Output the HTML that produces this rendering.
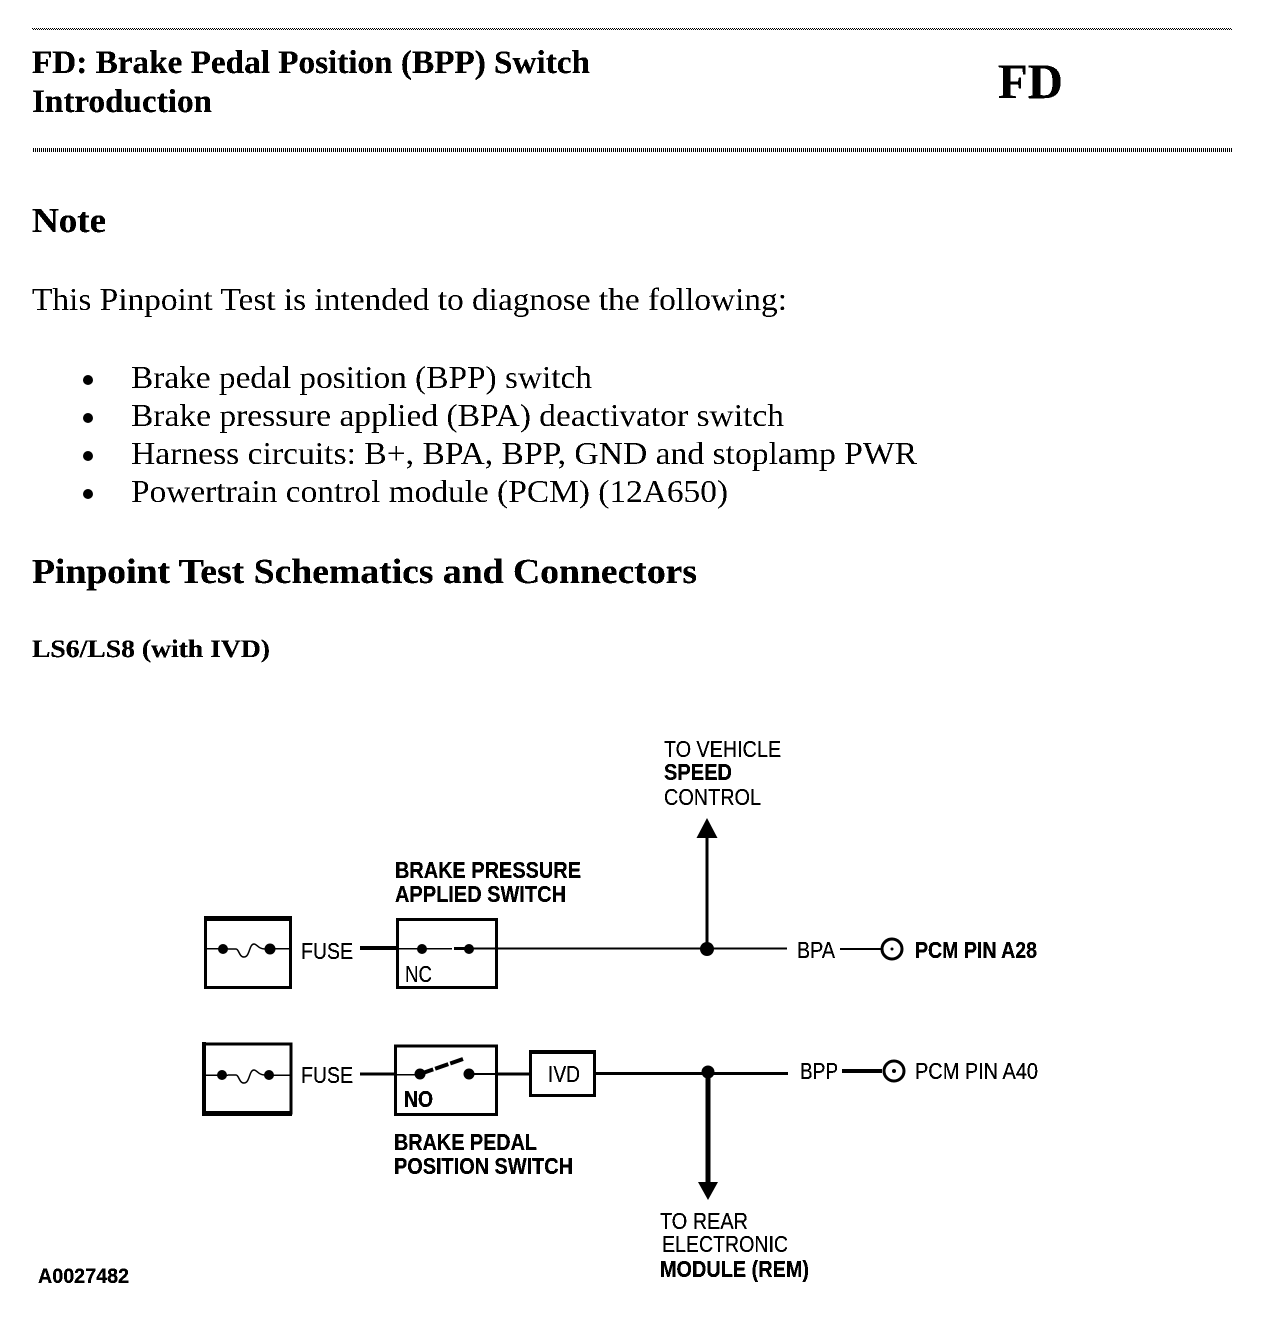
<!DOCTYPE html>
<html><head><meta charset="utf-8"><style>
html,body{margin:0;padding:0;background:#fff}
svg{display:block}
text{fill:#000}
.s{font-family:"Liberation Serif",serif}
.d{font-family:"Liberation Sans",sans-serif;font-size:23px}
.b{font-weight:bold}
</style></head><body>
<svg width="1264" height="1332" viewBox="0 0 1264 1332" xmlns="http://www.w3.org/2000/svg">
<defs>
<filter id="t" x="0" y="0" width="1" height="1" filterUnits="objectBoundingBox"><feComponentTransfer><feFuncA type="discrete" tableValues="0 0 1 1"/></feComponentTransfer></filter>
<filter id="u" x="0" y="0" width="1" height="1" filterUnits="objectBoundingBox"><feComponentTransfer><feFuncA type="discrete" tableValues="0 1 1 1"/></feComponentTransfer></filter>
</defs>
<rect width="1264" height="1332" fill="#fff"/>
<g shape-rendering="crispEdges">
<line x1="32" y1="28.5" x2="1232" y2="28.5" stroke="#000" stroke-width="1" stroke-dasharray="1 1"/>
<line x1="33" y1="29.5" x2="1232" y2="29.5" stroke="#000" stroke-width="1" stroke-dasharray="1 1"/>
<line x1="33" y1="150" x2="1232" y2="150" stroke="#000" stroke-width="4" stroke-dasharray="1 1"/>
</g>
<g filter="url(#u)" class="s">
<text class="b" x="32" y="73" font-size="33" textLength="558" lengthAdjust="spacingAndGlyphs">FD: Brake Pedal Position (BPP) Switch</text>
<text class="b" x="32" y="112" font-size="33" textLength="180" lengthAdjust="spacingAndGlyphs">Introduction</text>
<text class="b" x="998" y="98" font-size="50" textLength="65" lengthAdjust="spacingAndGlyphs">FD</text>
<text class="b" x="32" y="232" font-size="35" textLength="74" lengthAdjust="spacingAndGlyphs">Note</text>
<text class="b" x="32" y="583" font-size="35" textLength="665" lengthAdjust="spacingAndGlyphs">Pinpoint Test Schematics and Connectors</text>
<text class="b" x="32" y="657" font-size="25" textLength="238" lengthAdjust="spacingAndGlyphs">LS6/LS8 (with IVD)</text>
</g>
<g filter="url(#t)" class="s">
<text x="32" y="310" font-size="32" textLength="755" lengthAdjust="spacingAndGlyphs">This Pinpoint Test is intended to diagnose the following:</text>
<text x="131" y="388" font-size="32" textLength="461" lengthAdjust="spacingAndGlyphs">Brake pedal position (BPP) switch</text>
<text x="131" y="426" font-size="32" textLength="653" lengthAdjust="spacingAndGlyphs">Brake pressure applied (BPA) deactivator switch</text>
<text x="131" y="464" font-size="32" textLength="786" lengthAdjust="spacingAndGlyphs">Harness circuits: B+, BPA, BPP, GND and stoplamp PWR</text>
<text x="131" y="502" font-size="32" textLength="597" lengthAdjust="spacingAndGlyphs">Powertrain control module (PCM) (12A650)</text>
</g>
<circle cx="88" cy="380" r="5"/><circle cx="88" cy="418" r="5"/><circle cx="88" cy="456" r="5"/><circle cx="88" cy="494" r="5"/>
<g filter="url(#u)" class="d">
<text x="664" y="757" textLength="117" lengthAdjust="spacingAndGlyphs">TO VEHICLE</text>
<text class="b" x="664" y="780" textLength="68" lengthAdjust="spacingAndGlyphs">SPEED</text>
<text x="664" y="805" textLength="97" lengthAdjust="spacingAndGlyphs">CONTROL</text>
<text class="b" x="395" y="878" textLength="186" lengthAdjust="spacingAndGlyphs">BRAKE PRESSURE</text>
<text class="b" x="395" y="902" textLength="171" lengthAdjust="spacingAndGlyphs">APPLIED SWITCH</text>
<text x="301" y="959" textLength="52" lengthAdjust="spacingAndGlyphs">FUSE</text>
<text x="405" y="982" textLength="27" lengthAdjust="spacingAndGlyphs">NC</text>
<text x="797" y="958" textLength="38" lengthAdjust="spacingAndGlyphs">BPA</text>
<text class="b" x="915" y="958" textLength="122" lengthAdjust="spacingAndGlyphs">PCM PIN A28</text>
<text x="301" y="1083" textLength="52" lengthAdjust="spacingAndGlyphs">FUSE</text>
<text class="b" x="404" y="1107" textLength="29" lengthAdjust="spacingAndGlyphs">NO</text>
<text x="548" y="1082" textLength="32" lengthAdjust="spacingAndGlyphs">IVD</text>
<text x="800" y="1079" textLength="38" lengthAdjust="spacingAndGlyphs">BPP</text>
<text x="915" y="1079" textLength="123" lengthAdjust="spacingAndGlyphs">PCM PIN A40</text>
<text class="b" x="394" y="1150" textLength="143" lengthAdjust="spacingAndGlyphs">BRAKE PEDAL</text>
<text class="b" x="394" y="1174" textLength="179" lengthAdjust="spacingAndGlyphs">POSITION SWITCH</text>
<text x="660" y="1229" textLength="88" lengthAdjust="spacingAndGlyphs">TO REAR</text>
<text x="662" y="1252" textLength="126" lengthAdjust="spacingAndGlyphs">ELECTRONIC</text>
<text class="b" x="660" y="1277" textLength="149" lengthAdjust="spacingAndGlyphs">MODULE (REM)</text>
<text class="b" x="38" y="1283" font-size="21" textLength="91" lengthAdjust="spacingAndGlyphs">A0027482</text>
</g>
<g fill="none" stroke="#000" shape-rendering="crispEdges">
<!-- fuse 1 -->
<rect x="205.5" y="918.5" width="85" height="69" stroke-width="3"/>
<rect x="204" y="916" width="88" height="5" fill="#000" stroke="none"/>
<line x1="206" y1="948.5" x2="228" y2="948.5" stroke-width="1.5"/>
<line x1="265" y1="948.5" x2="290" y2="948.5" stroke-width="1.5"/>
<!-- switch 1 -->
<rect x="397.5" y="919.5" width="99" height="68" stroke-width="3"/>
<line x1="360" y1="948" x2="397" y2="948" stroke-width="4"/>
<line x1="397" y1="948.5" x2="452" y2="948.5" stroke-width="1.5"/>
<line x1="454" y1="948.5" x2="468" y2="948.5" stroke-width="3"/>
<line x1="468" y1="948.5" x2="787" y2="948.5" stroke-width="2"/>
<line x1="707" y1="949" x2="707" y2="835" stroke-width="3"/>
<line x1="840" y1="949" x2="882" y2="949" stroke-width="2"/>
<!-- fuse 2 -->
<rect x="204" y="1044" width="87" height="69" stroke-width="3"/>
<rect x="202" y="1042" width="4" height="74" fill="#000" stroke="none"/>
<rect x="202" y="1111" width="90" height="5" fill="#000" stroke="none"/>
<line x1="206" y1="1075" x2="228" y2="1075" stroke-width="1.5"/>
<line x1="265" y1="1075" x2="290" y2="1075" stroke-width="1.5"/>
<!-- switch 2 -->
<rect x="395.5" y="1046" width="101" height="68.5" stroke-width="3"/>
<line x1="360" y1="1074" x2="395" y2="1074" stroke-width="3"/>
<line x1="395" y1="1074.5" x2="420" y2="1074.5" stroke-width="1.5"/>
<line x1="469" y1="1074" x2="497" y2="1074" stroke-width="2"/>
<line x1="497" y1="1074" x2="530" y2="1074" stroke-width="3"/>
<rect x="530.5" y="1051.5" width="64" height="44" stroke-width="3"/>
<rect x="529" y="1050" width="67" height="4" fill="#000" stroke="none"/>
<line x1="596" y1="1073.5" x2="788" y2="1073.5" stroke-width="3"/>
<line x1="708" y1="1073" x2="708" y2="1185" stroke-width="5"/>
<line x1="842" y1="1071" x2="882" y2="1071" stroke-width="4"/>
</g>
<g fill="none" stroke="#000">
<path d="M228 949 h8 c3 0 3 8 8 8 c6 0 5 -13 10 -13 c3 0 4 5 11 5" stroke-width="1.5"/>
<path d="M228 1075 h8 c3 0 3 8 8 8 c6 0 5 -13 10 -13 c3 0 4 5 11 5" stroke-width="1.5"/>
<path d="M420 1074 L463 1059" stroke-width="4" stroke-dasharray="14 2"/>
<circle cx="892" cy="949" r="10" stroke-width="3" fill="#fff"/>
<circle cx="894" cy="1071" r="10" stroke-width="3" fill="#fff"/>
</g>
<g fill="#000">
<circle cx="223" cy="949" r="5"/><circle cx="270" cy="949" r="5.5"/>
<circle cx="422" cy="949" r="5"/><circle cx="469" cy="949" r="5"/>
<circle cx="222" cy="1075" r="5"/><circle cx="269" cy="1075" r="5"/>
<circle cx="420" cy="1074" r="5.5"/><circle cx="469" cy="1074" r="5.5"/>
<circle cx="707" cy="949" r="7"/><circle cx="708" cy="1072" r="6.5"/>
<path d="M707 818 L717.5 838 L696.5 838 Z"/>
<path d="M698 1182 L718 1182 L708 1200 Z"/>
<circle cx="892" cy="949" r="1.5"/><circle cx="894" cy="1071" r="2"/>
</g>
</svg>
</body></html>
